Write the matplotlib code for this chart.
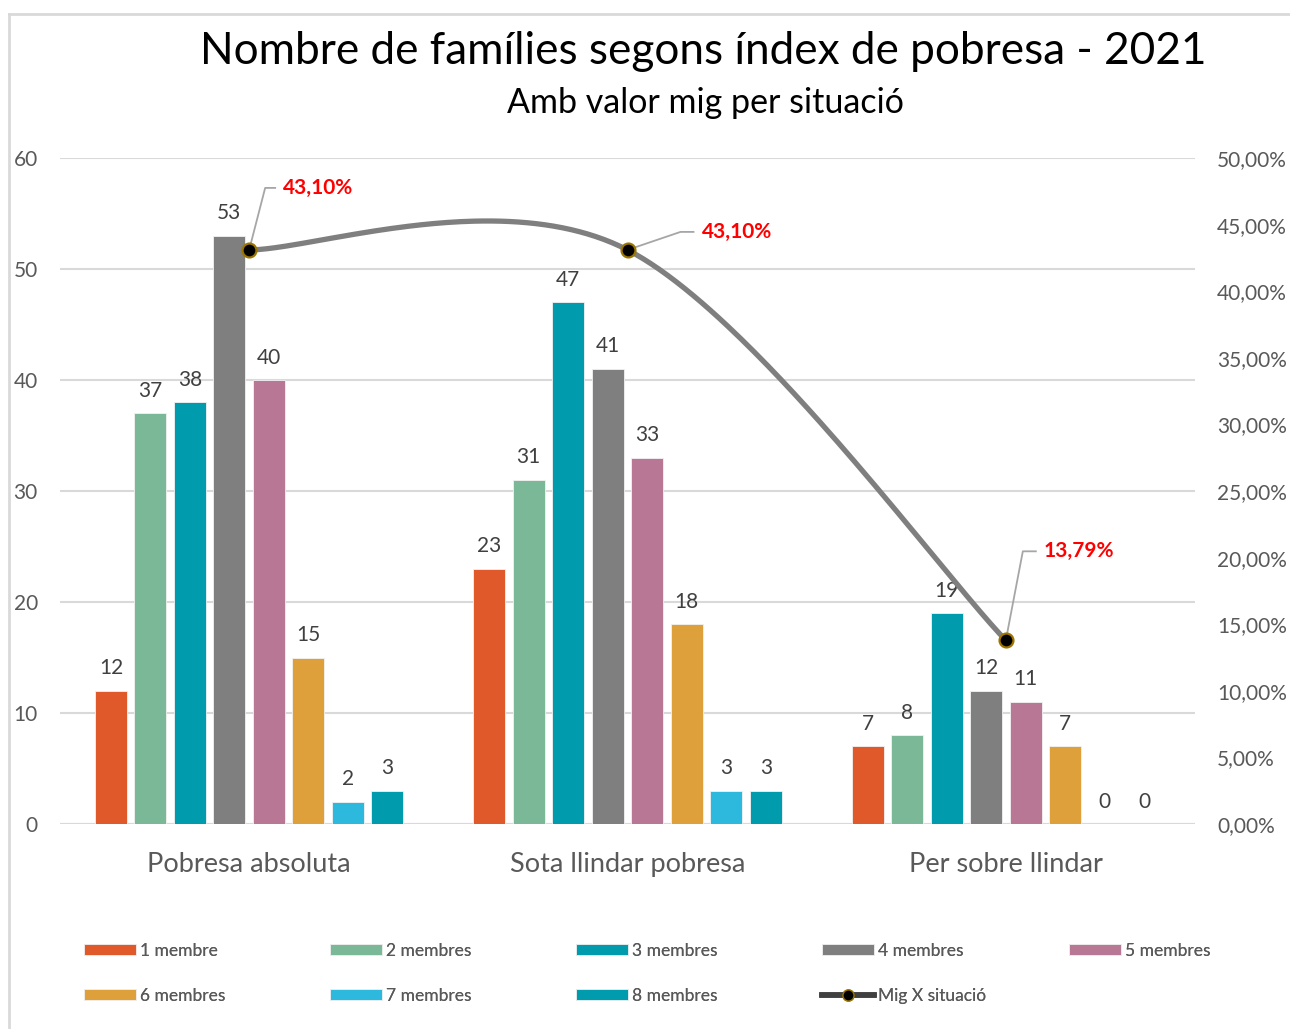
import numpy as np
import matplotlib
matplotlib.use("Agg")
import matplotlib.pyplot as plt
import matplotlib.transforms as mtrans
from matplotlib.lines import Line2D
from matplotlib.ticker import FuncFormatter

plt.rcParams['font.family'] = ['Lato', 'DejaVu Sans']

categories = ["Pobresa absoluta", "Sota llindar pobresa", "Per sobre llindar"]
series_names = ["1 membre", "2 membres", "3 membres", "4 membres",
                "5 membres", "6 membres", "7 membres", "8 membres"]
m1 = [12, 23, 7]
m2 = [37, 31, 8]
m3 = [38, 47, 19]
m4 = [53, 41, 12]
m5 = [40, 33, 11]
m6 = [15, 18, 7]
m7 = [2, 3, 0]
m8 = [3, 3, 0]
mig = [0.4310, 0.4310, 0.1379]
mig_name = "Mig X situació"

colors = ["#DF592B", "#7AB898", "#009BAC", "#7F7F7F",
          "#B77795", "#DEA03A", "#2DB8DD", "#009BAC"]

series = [m1, m2, m3, m4, m5, m6, m7, m8]
x = np.arange(len(categories))

fig = plt.figure(figsize=(12.9, 10.29), dpi=100)
# chart frame (only top and left edges visible)
fig.add_artist(Line2D([9/1290, 9/1290], [0, 1 - 14/1029], transform=fig.transFigure,
                      color="#D9D9D9", linewidth=2))
fig.add_artist(Line2D([9/1290, 1], [1 - 14/1029, 1 - 14/1029], transform=fig.transFigure,
                      color="#D9D9D9", linewidth=2))

ax = fig.add_axes([60/1290, 1 - 824/1029, (1195-60)/1290, (824-158)/1029])
ax2 = ax.twinx()

step = 0.1044
width = 0.0845
handles = []
for k, (vals, c) in enumerate(zip(series, colors)):
    pos = x + (k - 3.5) * step
    b = ax.bar(pos, vals, width, color=c, edgecolor="#F2F2F2", linewidth=0.6, zorder=3,
               label=series_names[k])
    handles.append(b)
    for px, v in zip(pos, vals):
        ax.annotate(str(v), (px, v), xytext=(0, 9), textcoords="offset points",
                    ha="center", va="bottom", fontsize=15, color="#404040")

ax.set_xlim(-0.5, 2.5)
ax.set_ylim(0, 60)
ax.set_yticks(range(0, 61, 10))
ax.grid(axis="y", color="#D9D9D9", linewidth=1.5, zorder=0)
ax.set_axisbelow(True)
for s in ax.spines.values():
    s.set_visible(False)
for s in ax2.spines.values():
    s.set_visible(False)
ax.axhline(0, color="#D9D9D9", linewidth=1.5, zorder=2)
ax.set_xticks(x)
ax.set_xticklabels(categories, fontsize=19.5, color="#595959")
ax.tick_params(axis="x", length=0, pad=20)
ax.tick_params(axis="y", length=0, labelsize=15, labelcolor="#595959", pad=16)

ax2.set_ylim(0, 0.5)
ax2.set_yticks(np.arange(0, 0.501, 0.05))
ax2.yaxis.set_major_formatter(FuncFormatter(lambda v, p: f"{v*100:.2f}%".replace(".", ",")))
ax2.tick_params(axis="y", length=0, labelsize=15, labelcolor="#595959", pad=16)
ax2.set_xlim(-0.5, 2.5)

# smoothed line (Catmull-Rom through the points, like Excel's smoothing)
P = np.column_stack([x.astype(float), np.array(mig)])
P = np.vstack([P[0], P, P[-1]])
t = np.linspace(0, 1, 100)
h00 = 2*t**3 - 3*t**2 + 1
h10 = t**3 - 2*t**2 + t
h01 = -2*t**3 + 3*t**2
h11 = t**3 - t**2
cx, cy = [], []
for i in range(1, len(P) - 2):
    p0, p1, p2, p3 = P[i-1], P[i], P[i+1], P[i+2]
    seg = (np.outer(h00, p1) + np.outer(h10, (p2 - p0) / 2)
           + np.outer(h01, p2) + np.outer(h11, (p3 - p1) / 2))
    cx.extend(seg[:, 0]); cy.extend(seg[:, 1])
ax2.plot(cx, cy, color="#7F7F7F", linewidth=3.8, solid_capstyle="round", zorder=4)
ax2.plot(x, mig, linestyle="none", marker="o", markersize=10, markerfacecolor="black",
         markeredgecolor="#9C7400", markeredgewidth=1.6, zorder=5)

# data labels with leader lines (offsets in pixels: elbow x, elbow y, horizontal end)
leaders = [(16, 62, 26), (53, 18, 66), (17, 89, 30)]
for xi, yi, (dx, dy, hx) in zip(x, mig, leaders):
    tr = mtrans.Affine2D() + mtrans.ScaledTranslation(xi, yi, ax2.transData)
    ax2.add_line(Line2D([0, dx, hx], [0, dy, dy], transform=tr, color="#A6A6A6",
                        linewidth=1.3, zorder=4.5))
    lab = f"{yi*100:.2f}%".replace(".", ",")
    ax2.annotate(lab, (xi, yi), xytext=(hx + 8, dy), textcoords="offset pixels",
                 ha="left", va="center", fontsize=15, fontweight="bold", color="#FF0000",
                 zorder=6)

fig.text(703/1290, 1 - 51/1029, "Nombre de famílies segons índex de pobresa - 2021",
         ha="center", va="center", fontsize=31.8, color="black")
fig.text(705/1290, 1 - 103/1029, "Amb valor mig per situació",
         ha="center", va="center", fontsize=24.5, color="black")

# legend, row-major layout
mig_handle = Line2D([0], [0], color="#404040", linewidth=4, marker="o", markersize=8,
                    markerfacecolor="black", markeredgecolor="#9C7400")
all_h = handles + [mig_handle]
all_l = series_names + [mig_name]
col_x = [84, 330, 576, 822, 1069]
row_y = [951, 996]
for i, (h, l) in enumerate(zip(all_h, all_l)):
    r, c = divmod(i, 5)
    lg = fig.legend([h], [l], loc="center left",
                    bbox_to_anchor=(col_x[c]/1290 - 0.0125, 1 - row_y[r]/1029),
                    frameon=False, fontsize=12.5, labelcolor="#595959",
                    handlelength=3.0, handleheight=0.6, handletextpad=0.25)
    fig.add_artist(lg)

fig.savefig("out.png", dpi=100)
